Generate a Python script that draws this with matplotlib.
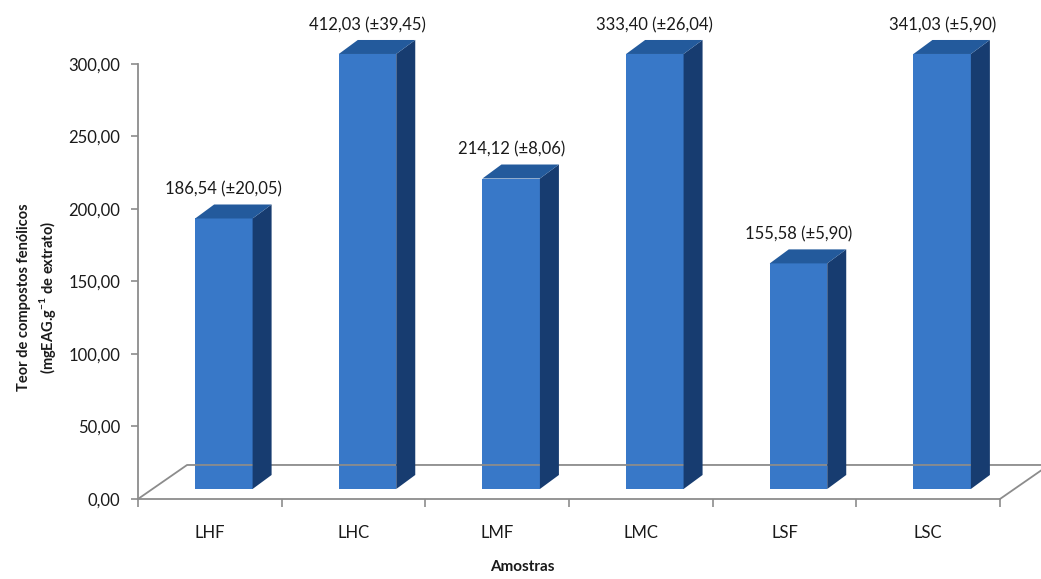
import matplotlib
matplotlib.use("Agg")
import matplotlib.pyplot as plt
from matplotlib.patches import Polygon
from matplotlib.lines import Line2D
from matplotlib.transforms import ScaledTranslation, IdentityTransform

# Teor de compostos fenólicos por amostra (média e desvio padrão)
amostras = ['LHF', 'LHC', 'LMF', 'LMC', 'LSF', 'LSC']
teor = [186.54, 412.03, 214.12, 333.40, 155.58, 341.03]
desvio = [20.05, 39.45, 8.06, 26.04, 5.90, 5.90]
yticks = [0, 50, 100, 150, 200, 250, 300]

plt.rcParams['font.family'] = ['Lato', 'DejaVu Sans']
plt.rcParams['mathtext.fontset'] = 'custom'
plt.rcParams['mathtext.rm'] = 'Lato'
plt.rcParams['mathtext.bf'] = 'Lato:bold'

COR_FRENTE = '#3878C8'
COR_LADO = '#173C70'
COR_TOPO = '#235A9C'
COR_EIXO = '#8C8C8C'
COR_TEXTO = '#1A1A1A'


def virgula(v):
    return f'{v:.2f}'.replace('.', ',')


fig = plt.figure(figsize=(10.41, 5.79), dpi=100)
ax = fig.add_axes([0.1326, 0.1382, 0.828, 0.7513])
ax.set_xlim(-0.5, len(amostras) - 0.5)
ax.set_ylim(0, 300)

# deslocamentos em pixels para simular profundidade
frente = (14, 10)
prof = (19, 14)
fundo = (49, 34)
largura = 0.4


def tela(x, y, dx=0, dy=0):
    px, py = ax.transData.transform((x, y))
    return (px + dx, py + dy)


# piso
x0, x1 = -0.5, len(amostras) - 0.5
piso = [tela(x0, 0), tela(x0, 0, *fundo), tela(x1, 0, *fundo), tela(x1, 0)]
fig.add_artist(Line2D([p[0] for p in piso], [p[1] for p in piso],
                      color=COR_EIXO, lw=1.3, transform=IdentityTransform(),
                      zorder=1))

# barras (frente, lado e topo)
desl = ax.transData + ScaledTranslation(frente[0] / 100, frente[1] / 100,
                                        fig.dpi_scale_trans)
alturas = [min(v, 300) for v in teor]
ax.bar(range(len(amostras)), alturas, width=largura, color=COR_FRENTE,
       transform=desl, clip_on=False, zorder=3)
for i, h in enumerate(alturas):
    xd = i + largura / 2
    xe = i - largura / 2
    fx, fy = frente
    lado = [tela(xd, 0, fx, fy), tela(xd, h, fx, fy),
            tela(xd, h, fx + prof[0], fy + prof[1]),
            tela(xd, 0, fx + prof[0], fy + prof[1])]
    topo = [tela(xe, h, fx, fy), tela(xd, h, fx, fy),
            tela(xd, h, fx + prof[0], fy + prof[1]),
            tela(xe, h, fx + prof[0], fy + prof[1])]
    fig.add_artist(Polygon(lado, closed=True, facecolor=COR_LADO,
                           edgecolor='none', transform=IdentityTransform(),
                           zorder=2))
    fig.add_artist(Polygon(topo, closed=True, facecolor=COR_TOPO,
                           edgecolor='none', transform=IdentityTransform(),
                           zorder=2))
    ax.annotate(f'{virgula(teor[i])} (±{virgula(desvio[i])})',
                xy=(i, h), xytext=(fx, fy + 29), textcoords='offset pixels',
                ha='center', va='center', fontsize=12, color=COR_TEXTO,
                annotation_clip=False)

# eixos
for lado in ['top', 'right']:
    ax.spines[lado].set_visible(False)
for lado in ['left', 'bottom']:
    ax.spines[lado].set_color(COR_EIXO)
    ax.spines[lado].set_linewidth(1.3)
ax.spines['bottom'].set_zorder(1)
ax.patch.set_visible(False)

ax.set_yticks(yticks)
ax.set_yticklabels([virgula(v) for v in yticks])
ax.tick_params(axis='y', length=5, width=1.2, color=COR_EIXO, pad=8,
               labelsize=12, labelcolor=COR_TEXTO)
ax.set_xticks([i - 0.5 for i in range(len(amostras) + 1)])
ax.set_xticklabels([])
ax.set_xticks(range(len(amostras)), minor=True)
ax.set_xticklabels(amostras, minor=True)
ax.tick_params(axis='x', which='major', length=6, width=1.2, color=COR_EIXO)
ax.tick_params(axis='x', which='minor', length=0, pad=19, labelsize=12,
               labelcolor=COR_TEXTO)

fig.text(0.036, 0.486, 'Teor de compostos fenólicos\n'
         r'(mgEAG.g$^{\mathbf{-1}}$ de extrato)',
         rotation=90, ha='center', va='center', fontsize=10.5,
         fontweight='bold', color=COR_TEXTO, linespacing=1.35)
fig.text(0.502, 0.02, 'Amostras', ha='center', va='center', fontsize=11,
         fontweight='bold', color=COR_TEXTO)

fig.savefig('out.png', dpi=100)
